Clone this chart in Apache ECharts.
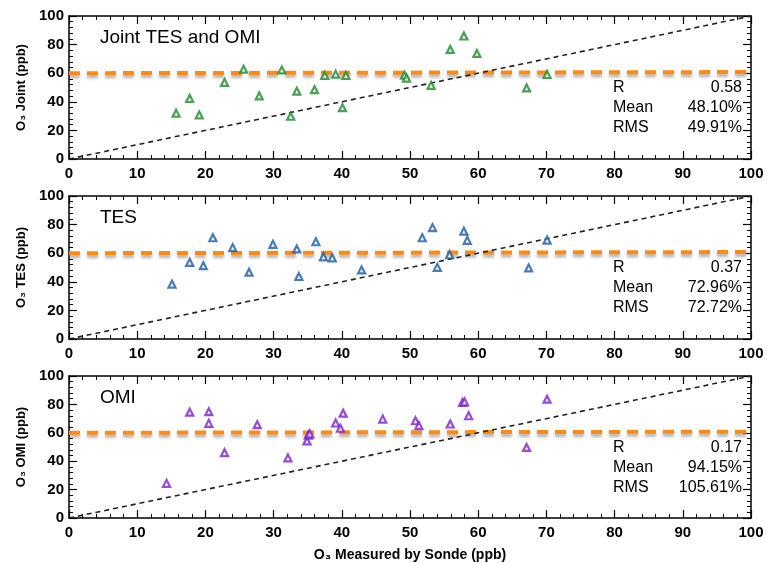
<!DOCTYPE html>
<html>
<head>
<meta charset="utf-8">
<script src="https://cdn.jsdelivr.net/npm/echarts@6/dist/echarts.min.js"></script>
<style>
html, body { margin: 0; padding: 0; background: #fff; }
#chart { width: 767px; height: 563px; }
</style>
</head>
<body>
<div id="chart"></div>
<script>
// sonde vs retrieved O3, ppb  [x, y]
const jointPts = [
	[15.7, 32.0], [17.7, 42.3], [19.1, 30.8], [22.8, 53.6], [25.6, 62.8], [27.9, 44.1],
	[31.2, 62.3], [32.5, 29.9], [33.4, 47.4], [36.0, 48.5], [37.5, 58.4], [39.1, 59.3],
	[40.1, 35.9], [40.6, 58.4], [49.2, 58.6], [49.5, 56.6], [53.1, 51.5], [55.9, 76.6],
	[57.9, 86.0], [59.8, 73.8], [67.1, 49.7], [70.1, 59.1]
];
const tesPts = [
	[15.1, 38.4], [17.7, 53.6], [19.7, 51.3], [21.1, 70.8], [24.0, 63.9], [26.4, 46.7],
	[29.9, 66.2], [33.4, 63.0], [33.7, 43.7], [36.2, 68.0], [37.3, 57.5], [38.6, 56.8],
	[42.9, 48.3], [51.8, 70.8], [53.3, 77.9], [54.0, 50.1], [55.8, 58.9], [57.9, 75.4],
	[58.4, 69.0], [67.4, 49.7], [70.1, 69.2]
];
const omiPts = [
	[14.3, 24.4], [17.7, 74.5], [20.5, 74.9], [20.5, 66.7], [22.8, 46.0], [27.6, 65.7],
	[32.1, 42.3], [34.9, 54.3], [35.1, 58.4], [35.3, 59.3], [39.1, 66.9], [39.8, 63.2],
	[40.2, 73.8], [46.0, 69.7], [50.8, 68.5], [51.3, 65.1], [55.9, 66.2], [57.7, 81.4],
	[58.0, 81.8], [58.6, 72.0], [67.1, 49.7], [70.1, 83.7]
];
const oneToOne = [[0, 0], [100, 100]];
const refLine = [[0, 60], [100, 60.8]];

const panelNames = ['Joint TES and OMI', 'TES', 'OMI'];
const yTitles = ['O₃ Joint (ppb)', 'O₃ TES (ppb)', 'O₃ OMI (ppb)'];
const statR = ['0.58', '0.37', '0.17'];
const statMean = ['48.10%', '72.96%', '94.15%'];
const statRms = ['49.91%', '72.72%', '105.61%'];
const colors = ['#1a8a2a', '#1c5aa6', '#7a1fd0'];
const allPts = [jointPts, tesPts, omiPts];

const tops = [16, 196, 376];
const H = 143;
const font = 'Liberation Sans';

let grids = [], xAxes = [], yAxes = [], series = [], graphics = [];

// fresh objects for every axis (shared ones lose their ticks)
const axLine = () => ({ show: true, onZero: false, lineStyle: { color: '#000', width: 1.5 } });
const axTick = () => ({ show: true, inside: true, length: 8, lineStyle: { color: '#000', width: 1.2 } });
const axMinor = () => ({ show: true, splitNumber: 5, length: 4, lineStyle: { color: '#000', width: 1 } });
const axLabel = (m) => ({ color: '#000', fontFamily: font, fontWeight: 'bold', fontSize: 15, margin: m });

const seg = (pts) => [[{ coord: pts[0] }, { coord: pts[1] }]];

tops.forEach((top, i) => {
	grids.push({ left: 69, right: 16, top: top, height: H });

	xAxes.push({
		gridIndex: i, type: 'value', min: 0, max: 100, interval: 10, position: 'bottom',
		axisLine: axLine(), axisTick: axTick(), minorTick: axMinor(),
		splitLine: { show: false }, axisLabel: axLabel(7),
		name: i === 2 ? 'O₃ Measured by Sonde (ppb)' : undefined,
		nameLocation: 'middle', nameGap: 30,
		nameTextStyle: { color: '#000', fontFamily: font, fontWeight: 'bold', fontSize: 14 }
	});
	xAxes.push({
		gridIndex: i, type: 'value', min: 0, max: 100, interval: 10, position: 'top',
		axisLine: axLine(), axisTick: axTick(), minorTick: axMinor(),
		splitLine: { show: false }, axisLabel: { show: false }
	});
	yAxes.push({
		gridIndex: i, type: 'value', min: 0, max: 100, interval: 20, position: 'left',
		axisLine: axLine(), axisTick: axTick(), minorTick: axMinor(),
		splitLine: { show: false }, axisLabel: axLabel(5),
		name: yTitles[i], nameLocation: 'middle', nameRotate: 90, nameGap: 38,
		nameTextStyle: { color: '#000', fontFamily: font, fontWeight: 'bold', fontSize: 13 }
	});
	yAxes.push({
		gridIndex: i, type: 'value', min: 0, max: 100, interval: 20, position: 'right',
		axisLine: axLine(), axisTick: axTick(), minorTick: axMinor(),
		splitLine: { show: false }, axisLabel: { show: false }
	});

	// reference lines as markLines (line series hide the axis ticks here)
	series.push({
		type: 'scatter', xAxisIndex: i * 2, yAxisIndex: i * 2,
		data: [], silent: true,
		markLine: {
			silent: true, animation: false, symbol: 'none', label: { show: false },
			lineStyle: {
				color: '#ff8a14', width: 4, type: [11, 7],
				shadowColor: 'rgba(0,0,0,0.3)', shadowBlur: 3, shadowOffsetY: 3
			},
			data: seg(refLine)
		}
	});
	series.push({
		type: 'scatter', xAxisIndex: i * 2, yAxisIndex: i * 2,
		data: [], silent: true,
		markLine: {
			silent: true, animation: false, symbol: 'none', label: { show: false },
			lineStyle: { color: '#222', width: 1.6, type: [5, 4] },
			data: seg(oneToOne)
		}
	});
	series.push({
		type: 'scatter', xAxisIndex: i * 2, yAxisIndex: i * 2, z: 5,
		data: allPts[i], symbol: 'triangle', symbolSize: [7, 7],
		itemStyle: { color: '#fff', borderColor: colors[i], borderWidth: 2.2 }
	});

	const txt = (x, y, t, size, align) => ({
		type: 'text', x: x, y: y,
		style: {
			text: t, fill: '#000', font: size + 'px "' + font + '"',
			textAlign: align || 'left', textVerticalAlign: 'middle'
		}
	});
	graphics.push(txt(100, top + 22, panelNames[i], 19));
	graphics.push(txt(613, top + 72, 'R', 16));
	graphics.push(txt(613, top + 92, 'Mean', 16));
	graphics.push(txt(613, top + 112, 'RMS', 16));
	graphics.push(txt(742, top + 72, statR[i], 16, 'right'));
	graphics.push(txt(742, top + 92, statMean[i], 16, 'right'));
	graphics.push(txt(742, top + 112, statRms[i], 16, 'right'));
});

const chart = echarts.init(document.getElementById('chart'));
chart.setOption({
	animation: false,
	grid: grids,
	xAxis: xAxes,
	yAxis: yAxes,
	series: series,
	graphic: graphics
});
</script>
</body>
</html>
